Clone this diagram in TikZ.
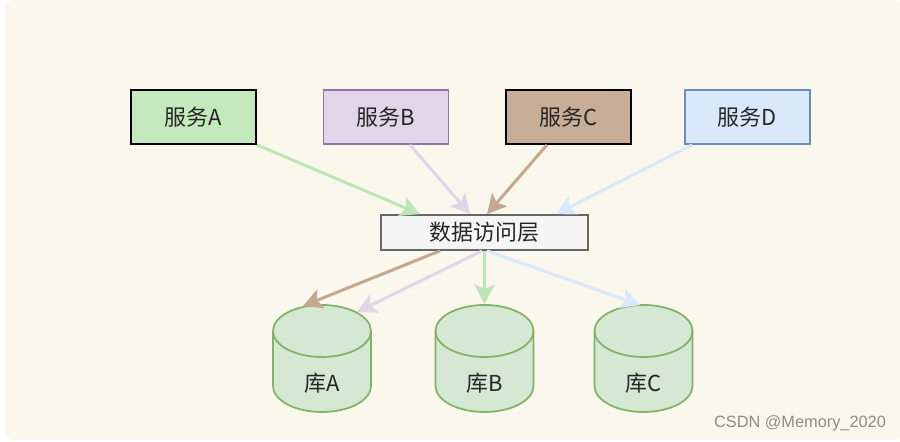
\documentclass[tikz,border=0pt]{standalone}
\usepackage{fontspec}
\setmainfont{Noto Sans CJK SC}
\newfontfamily\wmfont{Liberation Sans}
\usetikzlibrary{
    arrows.meta,
    calc,
    positioning
}
\tikzset{
  svc/.style={
    draw,
    line width=1pt,
    minimum width=2.5cm,
    minimum height=1.08cm,
    inner sep=0pt,
    text=black!85,
    font=\fontsize{12.5}{14}\selectfont
  },
  link/.style={
    line width=1.7pt,
    -{Stealth[length=11pt,width=11.5pt,inset=2.5pt]}
  },
  db/.style={
    draw=dbline,
    fill=dbfill,
    line width=1pt
  }
}

\begin{document}
\begin{tikzpicture}[x=0.02cm,y=0.02cm]

    % 色
    \definecolor{bgcream}{RGB}{250,248,236}
    \definecolor{afill}{RGB}{195,233,189}
    \definecolor{bfill}{RGB}{225,213,231}
    \definecolor{bline}{RGB}{150,115,166}
    \definecolor{cfill}{RGB}{201,174,151}
    \definecolor{dfill}{RGB}{218,232,252}
    \definecolor{dline}{RGB}{108,142,191}
    \definecolor{dbfill}{RGB}{213,232,212}
    \definecolor{dbline}{RGB}{130,179,102}
    \definecolor{agreen}{RGB}{190,229,182}
    \definecolor{atan}{RGB}{198,168,144}

    % 背景
    \useasboundingbox (0,0) rectangle (900,442);
    \fill[bgcream,rounded corners=5pt] (5,2) rectangle (904,442);

    % 服务
    \node[svc,fill=afill,draw=black] (svcA) at (193.5,325) {服务A};
    \node[svc,fill=bfill,draw=bline] (svcB) at (386,325) {服务B};
    \node[svc,fill=cfill,draw=black] (svcC) at (568.5,325) {服务C};
    \node[svc,fill=dfill,draw=dline] (svcD) at (747.5,325) {服务D};

    % 数据访问层
    \node[svc,fill=black!4,draw=black!60,minimum width=4.14cm,minimum height=0.7cm]
        (layer) at (484.5,209.5) {数据访问层};

    % 库
    \foreach \n/\cx in {A/322,B/484.5,C/643.5} {
        \draw[db] (\cx-49,111) -- (\cx-49,56)
            arc[start angle=180,end angle=360,x radius=49,y radius=26]
            -- (\cx+49,111)
            arc[start angle=0,end angle=180,x radius=49,y radius=26] -- cycle;
        \draw[db,fill=none] (\cx-49,111)
            arc[start angle=180,end angle=360,x radius=49,y radius=26];
        \node[svc,draw=none,minimum width=0pt,minimum height=0pt] (db\n) at (\cx,59) {库\n};
    }

    % 箭头的终点
    \coordinate (dbA-c) at (303,136);
    \coordinate (dbA-b) at (357,130);
    \coordinate (dbB-a) at (484.5,138);
    \coordinate (dbC-d) at (640,137);

    % 服务 -> 数据访问层
    \draw[link,agreen] (svcA.south east) -- ($(layer.north)+(-64.5,0)$);
    \draw[link,bfill] ($(svcB.south)+(24,0)$) -- ($(layer.north)+(-14.5,0)$);
    \draw[link,atan] ($(svcC.south)+(-21.5,0)$) -- ($(layer.north)+(2.5,0)$);
    \draw[link,dfill] ($(svcD.south west)+(8,0)$) -- ($(layer.north)+(71.5,0)$);

    % 数据访问层 -> 库
    \draw[link,bfill] ($(layer.south)+(-2.5,0)$) -- (dbA-b);
    \draw[link,atan] ($(layer.south)+(-44.5,0)$) -- (dbA-c);
    \draw[link,agreen] (layer.south) -- (dbB-a);
    \draw[link,dfill] ($(layer.south)+(2.5,0)$) -- (dbC-d);

    % 水印
    \node[text=black!45,font=\wmfont\fontsize{9.3}{11}\selectfont] (mark) at (800,19) {CSDN @Memory\_2020};

\end{tikzpicture}
\end{document}
